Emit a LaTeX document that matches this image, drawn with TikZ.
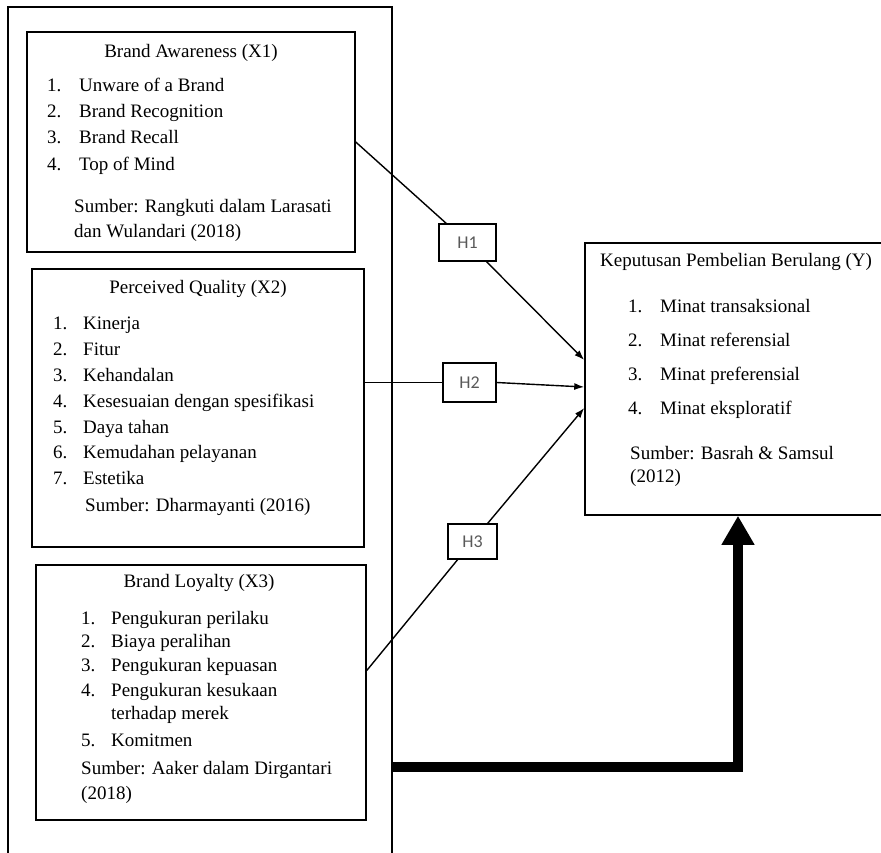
\documentclass[tikz,border=0pt]{standalone}
\usepackage{fontspec}
\setmainfont{Liberation Serif}
\newfontfamily\hfont{Carlito}
\usetikzlibrary{arrows.meta}

\begin{document}
\begin{tikzpicture}[x=1pt,y=-1pt,
	box/.style={draw,line width=1.5pt,rectangle,inner sep=0pt},
	txt/.style={anchor=west,inner sep=0pt,text height=13pt,text depth=4pt,font=\fontsize{19}{24}\selectfont},
	hbox/.style={draw,line width=1.5pt,inner sep=0pt,minimum width=53pt,minimum height=37pt,font=\hfont\fontsize{18}{20}\selectfont,text=black!65},
	link/.style={line width=1.4pt},
	arr/.style={line width=1.4pt,-{Latex[length=10pt,width=7pt]}},
	bigarr/.style={line width=10.5pt,line join=miter,-{Triangle[length=29pt,width=31pt]}}]
		\clip (0,0) rectangle (881,852);
		
		% kotak luar dan kotak variabel
		\node[box,minimum width=384pt,minimum height=900pt] (frame) at (200,457) {};
		\node[box,minimum width=328pt,minimum height=220pt] (X1) at (191,142) {};
		\node[box,minimum width=332pt,minimum height=278pt] (X2) at (198,408) {};
		\node[box,minimum width=330pt,minimum height=255pt] (X3) at (201,692.5) {};
		\node[box,minimum width=306pt,minimum height=272pt] (Y) at (738,379) {};
		
		% X1
		\node[txt,anchor=center] (t1) at (191,53) {Brand Awareness (X1)};
		\foreach \t [count=\i] in {Unware of a Brand,Brand Recognition,Brand Recall,Top of Mind} {
			\node[txt] (n1\i) at (47,{60.5+26.3*\i}) {\i.};
			\node[txt] (a1\i) at (79,{60.5+26.3*\i}) {\t};
		}
		\node[txt] (s1a) at (74,208) {Sumber: Rangkuti dalam Larasati};
		\node[txt] (s1b) at (74,233) {dan Wulandari (2018)};
		
		% X2
		\node[txt,anchor=center] (t2) at (198,289) {Perceived Quality (X2)};
		\foreach \t [count=\i] in {Kinerja,Fitur,Kehandalan,Kesesuaian dengan spesifikasi,Daya tahan,Kemudahan pelayanan,Estetika} {
			\node[txt] (n2\i) at (53,{299.5+25.8*\i}) {\i.};
			\node[txt] (a2\i) at (83,{299.5+25.8*\i}) {\t};
		}
		\node[txt] (s2) at (85,507) {Sumber: Dharmayanti (2016)};
		
		% X3
		\node[txt,anchor=center] (t3) at (199,583) {Brand Loyalty (X3)};
		\node[txt] (n31) at (81,620) {1.};
		\node[txt] (a31) at (111,620) {Pengukuran perilaku};
		\node[txt] (n32) at (81,643) {2.};
		\node[txt] (a32) at (111,643) {Biaya peralihan};
		\node[txt] (n33) at (81,667) {3.};
		\node[txt] (a33) at (111,667) {Pengukuran kepuasan};
		\node[txt] (n34) at (81,692) {4.};
		\node[txt] (a34) at (111,692) {Pengukuran kesukaan};
		\node[txt] (a34b) at (111,715) {terhadap merek};
		\node[txt] (n35) at (81,742) {5.};
		\node[txt] (a35) at (111,742) {Komitmen};
		\node[txt] (s3a) at (81,770) {Sumber: Aaker dalam Dirgantari};
		\node[txt] (s3b) at (81,795) {(2018)};
		
		% Y
		\node[txt] (tY) at (600,262) {Keputusan Pembelian Berulang (Y)};
		\foreach \t [count=\i] in {Minat transaksional,Minat referensial,Minat preferensial,Minat eksploratif} {
			\node[txt] (nY\i) at (628,{274+34*\i}) {\i.};
			\node[txt] (aY\i) at (660,{274+34*\i}) {\t};
		}
		\node[txt] (sYa) at (630,455) {Sumber: Basrah \& Samsul};
		\node[txt] (sYb) at (630,478) {(2012)};
		
		% hipotesis
		\node[hbox,minimum width=57pt] (H1) at (467.5,242.5) {H1};
		\node[hbox,minimum height=39pt] (H2) at (469.5,382.5) {H2};
		\node[hbox,minimum width=49pt,minimum height=35pt] (H3) at (472.5,541.5) {H3};
		
		\coordinate (y1) at ([yshift=19pt]Y.west);
		\coordinate (y2) at ([yshift=-8pt]Y.west);
		\coordinate (y3) at ([yshift=-29pt]Y.west);
		\coordinate (fb) at (392,767);
		
		\draw[link] (X1.east) -- (H1);
		\draw[arr] (H1) -- (y1);
		\draw[link] (X2.east |- H2.west) -- (H2.west);
		\draw[arr] (H2.east) -- (y2);
		\draw[link] ([yshift=22pt]X3.east) -- (H3);
		\draw[arr] (H3) -- (y3);
		
		\draw[bigarr] (fb) -- (Y.south |- fb) -- (Y.south);
	\end{tikzpicture}
\end{document}
